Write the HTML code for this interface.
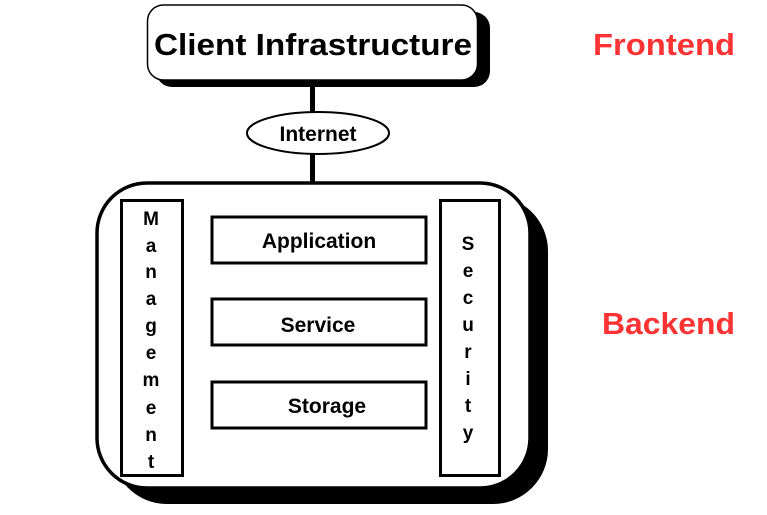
<!DOCTYPE html>
<html><head><style>
html,body{margin:0;padding:0;background:#fff;width:767px;height:515px;overflow:hidden}
text{font-family:"Liberation Sans",sans-serif;font-weight:bold}
</style></head><body>
<svg width="767" height="515" viewBox="0 0 767 515" xmlns="http://www.w3.org/2000/svg">
<rect x="156" y="12" width="334" height="75" rx="16" fill="#000"/>
<rect x="147.5" y="5" width="330" height="75" rx="16" fill="#fff" stroke="#000" stroke-width="1.5"/>
<text x="313" y="55" font-size="31" text-anchor="middle" textLength="318" lengthAdjust="spacingAndGlyphs">Client Infrastructure</text>
<rect x="310" y="80" width="5" height="34" fill="#000"/>
<rect x="310" y="154" width="5" height="30" fill="#000"/>
<ellipse cx="318" cy="133" rx="71" ry="21" fill="#fff" stroke="#000" stroke-width="2"/>
<text x="318" y="141" font-size="21" text-anchor="middle">Internet</text>
<rect x="112" y="196" width="436" height="308" rx="55" fill="#000"/>
<rect x="97" y="183" width="433" height="305" rx="50" fill="#fff" stroke="#000" stroke-width="3.5"/>
<rect x="121.5" y="200.5" width="61" height="275" fill="#fff" stroke="#000" stroke-width="3"/>
<rect x="440.5" y="200.5" width="59" height="275" fill="#fff" stroke="#000" stroke-width="3"/>
<rect x="212" y="217" width="214" height="46" fill="#fff" stroke="#000" stroke-width="3"/>
<rect x="212" y="299" width="214" height="46" fill="#fff" stroke="#000" stroke-width="3"/>
<rect x="212" y="382" width="214" height="46" fill="#fff" stroke="#000" stroke-width="3"/>
<text x="319" y="248" font-size="21" text-anchor="middle">Application</text>
<text x="318" y="332" font-size="21" text-anchor="middle">Service</text>
<text x="327" y="413" font-size="21" text-anchor="middle">Storage</text>
<g font-size="19" text-anchor="middle">
<text x="151" y="225">M</text><text x="151" y="252">a</text><text x="151" y="278">n</text>
<text x="151" y="305">a</text><text x="151" y="332">g</text><text x="151" y="359">e</text>
<text x="151" y="386">m</text><text x="151" y="414">e</text><text x="151" y="441">n</text>
<text x="151" y="468">t</text>
<text x="468" y="250">S</text><text x="468" y="277">e</text><text x="468" y="304">c</text>
<text x="468" y="331">u</text><text x="468" y="358">r</text><text x="468" y="385">i</text>
<text x="468" y="412">t</text><text x="468" y="439">y</text>
</g>
<text x="593" y="55" font-size="31" fill="#ff3333" textLength="142" lengthAdjust="spacingAndGlyphs">Frontend</text>
<text x="602" y="334" font-size="31" fill="#ff3333" textLength="133" lengthAdjust="spacingAndGlyphs">Backend</text>
</svg>
</body></html>
